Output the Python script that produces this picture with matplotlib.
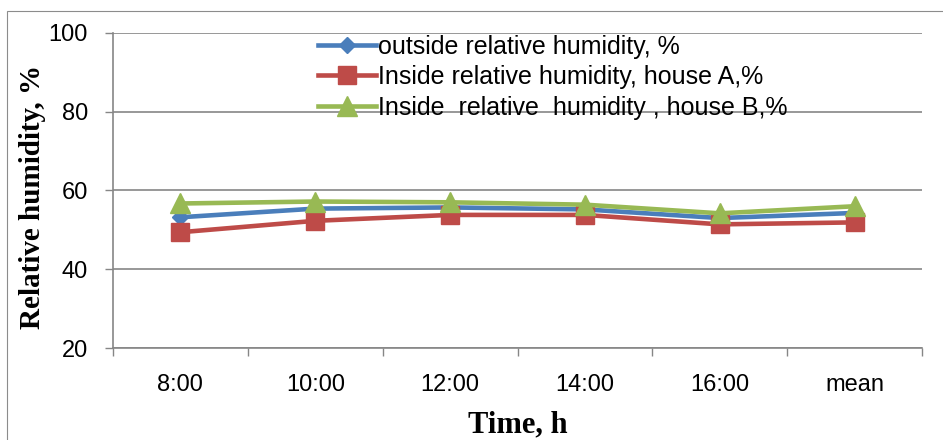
import matplotlib.pyplot as plt
from matplotlib.patches import Rectangle

# data
hours = ["8:00", "10:00", "12:00", "14:00", "16:00", "mean"]
outside_rh = [53.2, 55.4, 55.7, 55.2, 53.0, 54.3]
house_a_rh = [49.4, 52.3, 53.8, 53.8, 51.4, 51.9]
house_b_rh = [56.7, 57.2, 57.0, 56.4, 54.2, 56.0]
y_ticks = [20, 40, 60, 80, 100]

blue = "#4A7EBB"
red = "#BE4B48"
green = "#98B954"
grid_grey = "#868686"

fig = plt.figure(figsize=(9.43, 4.40), dpi=100)
ax = fig.add_axes([113 / 943, 1 - 348 / 440, (922 - 113) / 943, (348 - 33) / 440])

x = [i + 0.5 for i in range(len(hours))]
ax.plot(x, outside_rh, color=blue, lw=3.3, marker="D", ms=8,
        label="outside relative humidity, %", zorder=3)
ax.plot(x, house_a_rh, color=red, lw=3.3, marker="s", ms=13,
        label="Inside relative humidity, house A,%", zorder=4)
ax.plot(x, house_b_rh, color=green, lw=3.3, marker="^", ms=14,
        label="Inside  relative  humidity , house B,%", zorder=5)

ax.set_xlim(0, len(hours))
ax.set_ylim(20, 100)
ax.set_yticks(y_ticks)
ax.set_yticklabels([str(v) for v in y_ticks])
ax.grid(axis="y", color=grid_grey, lw=1.2)
ax.set_axisbelow(True)

# category boundaries as tick marks, labels at category centers
ax.set_xticks(range(len(hours) + 1))
ax.set_xticklabels([])
ax.set_xticks(x, minor=True)
ax.set_xticklabels(hours, minor=True, fontsize=17, family="Liberation Sans")
ax.tick_params(axis="x", which="major", direction="out", length=6,
               color=grid_grey, width=1)
ax.tick_params(axis="x", which="minor", length=0, pad=19)
ax.tick_params(axis="y", direction="out", length=6, color=grid_grey,
               width=1, pad=12, labelsize=17)
for lab in ax.get_yticklabels():
    lab.set_family("Liberation Sans")

for side in ["top", "right"]:
    ax.spines[side].set_visible(False)
for side in ["left", "bottom"]:
    ax.spines[side].set_color(grid_grey)
    ax.spines[side].set_linewidth(1.2)

ax.set_xlabel("Time, h", fontsize=22, fontweight="bold", family="Liberation Serif")
ax.xaxis.set_label_coords(0.5, (348 - 425) / 315)
ax.xaxis.label.set_verticalalignment("center")
ax.set_ylabel("Relative humidity, %", fontsize=21, fontweight="bold",
              family="Liberation Serif")
ax.yaxis.set_label_coords((33 - 113) / 809, (348 - 197) / 315)
ax.yaxis.label.set_verticalalignment("center")

fig.legend(loc="upper left", bbox_to_anchor=(318 / 943, 1 - 35 / 440),
           frameon=False, borderpad=0, borderaxespad=0, handlelength=2.3,
           handletextpad=0.1, labelspacing=0.25,
           prop={"family": "Liberation Sans", "size": 18})

# outer chart frame
fig.add_artist(Rectangle((7 / 943, -0.1), 1.1, 1.1 - 11 / 440,
                         transform=fig.transFigure, fill=False,
                         edgecolor="#8C8C8C", lw=0.8, clip_on=False))

fig.savefig("out.png", dpi=100)
